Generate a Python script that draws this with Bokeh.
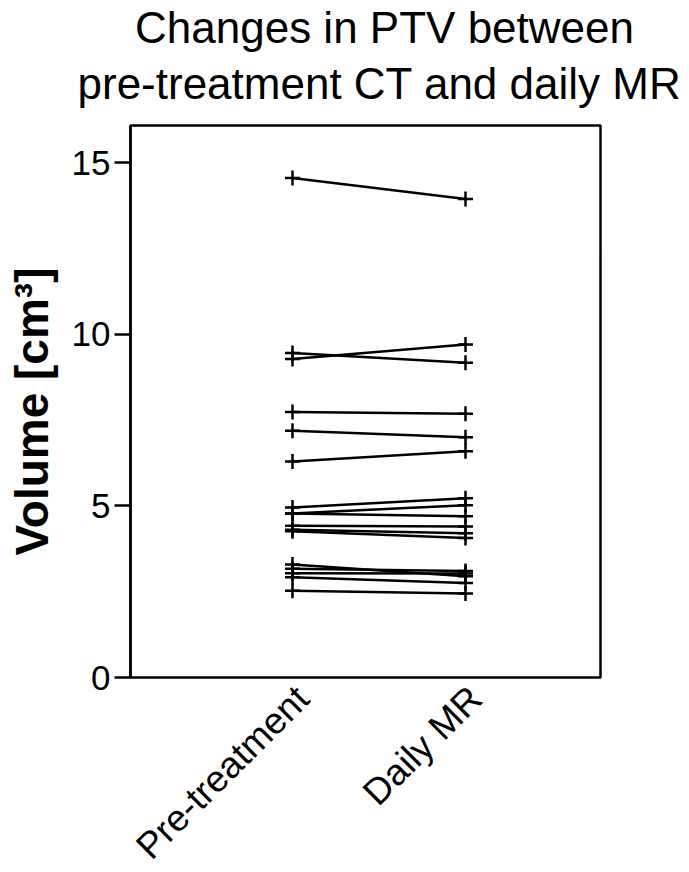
import math
from bokeh.plotting import figure
from bokeh.models import ColumnDataSource, FixedTicker, Range1d, BoxAnnotation
from bokeh.core.properties import value
from bokeh.embed import file_html
from bokeh.resources import INLINE

categories = ["Pre-treatment", "Daily MR"]
pre_treatment = [14.55, 9.45, 9.28, 7.73, 7.19, 6.29, 4.95, 4.78, 4.78, 4.42, 4.30, 4.26, 3.29, 3.17, 3.04, 2.92, 2.53]
daily_mr = [13.94, 9.17, 9.70, 7.68, 7.00, 6.59, 5.22, 5.02, 4.70, 4.40, 4.20, 4.06, 2.95, 3.10, 3.03, 2.75, 2.45]
y_ticks = [0, 5, 10, 15]
title_lines = ["Changes in PTV between", "pre-treatment CT and daily MR"]
y_label = "Volume [cm³]"

FONT = "Liberation Sans"
W, H = 689, 872

# layout: page pixel -> data unit conversion
PX_PER_X = 173.0        # pixels per category step
PX_PER_Y = 34.333       # pixels per cm3
X0_PX, Y0_PX = 292.0, 677.0   # page position of (category 0, volume 0)


def dx(px):
    return (px - X0_PX) / PX_PER_X


def dy(py):
    return (Y0_PX - py) / PX_PER_Y


BOX_X = (dx(130), dx(600))
BOX_Y = (0.0, dy(125))

p = figure(width=W, height=H, output_backend="svg", toolbar_location=None,
           x_range=Range1d(dx(0), dx(W)), y_range=Range1d(dy(H), dy(0)),
           min_border_left=0, min_border_right=0, min_border_bottom=0, min_border_top=0)
p.title = None
p.outline_line_color = None
p.xgrid.visible = False
p.ygrid.visible = False
p.background_fill_color = "white"
p.border_fill_color = "white"
p.xaxis.visible = False

# plot box
p.add_layout(BoxAnnotation(left=BOX_X[0], right=BOX_X[1], bottom=BOX_Y[0], top=BOX_Y[1],
                           fill_color=None, line_color="black", line_alpha=1.0,
                           line_width=2.5, level="underlay"))

# data
xs = [[0, 1] for _ in pre_treatment]
ys = [[a, b] for a, b in zip(pre_treatment, daily_mr)]
p.multi_line(xs=xs, ys=ys, line_color="black", line_width=2.5)
pts = ColumnDataSource(dict(
    x=[0] * len(pre_treatment) + [1] * len(daily_mr),
    y=pre_treatment + daily_mr,
))
p.scatter("x", "y", source=pts, marker="cross", size=15, line_color="black", line_width=2.5)

# y axis pinned to the left edge of the box
ya = p.yaxis[0]
ya.fixed_location = BOX_X[0]
ya.bounds = BOX_Y
ya.ticker = FixedTicker(ticks=y_ticks)
ya.minor_tick_line_color = None
ya.major_tick_in = 0
ya.major_tick_out = 16
ya.major_tick_line_width = 2.5
ya.axis_line_width = 2.5
ya.axis_line_color = "black"
ya.major_tick_line_color = "black"
ya.major_label_text_font = FONT
ya.major_label_text_font_size = "35px"
ya.major_label_text_color = "black"
ya.major_label_standoff = 4

# y axis title
p.text(x=[dx(31)], y=[dy(411)], text=[y_label], angle=math.pi / 2,
       text_align="center", text_baseline="middle",
       text_font=value(FONT), text_font_size="46px", text_font_style="bold", text_color="black")

# category labels under the box
cat_src = ColumnDataSource(dict(x=list(range(len(categories))), y=[BOX_Y[0]] * len(categories), text=categories))
p.text(x="x", y="y", text="text", source=cat_src, angle=math.pi / 4,
       x_offset=10, y_offset=15, text_align="right", text_baseline="middle",
       text_font=value(FONT), text_font_size="37px", text_color="black")

# chart title, two centred lines
p.text(x=[dx(384), dx(379)], y=[dy(27), dy(83)], text=title_lines,
       text_align="center", text_baseline="alphabetic",
       text_font=value(FONT), text_font_size="44px", text_color="black")

open("out.html", "w").write(file_html(p, INLINE))
